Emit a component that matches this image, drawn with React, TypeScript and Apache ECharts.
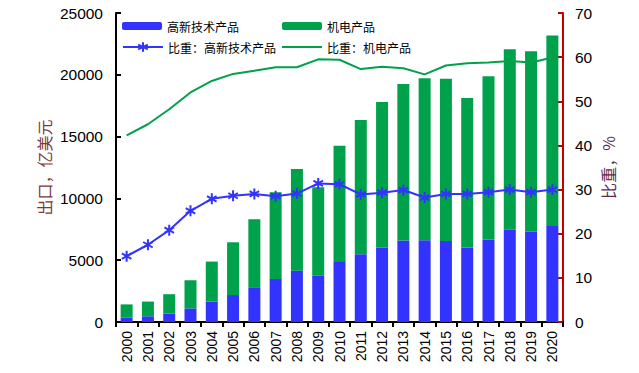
import React, { useEffect, useRef } from "react";
import * as echarts from "echarts";

const years = ["2000","2001","2002","2003","2004","2005","2006","2007","2008","2009","2010","2011","2012","2013","2014","2015","2016","2017","2018","2019","2020"];
const hiTech = [370, 465, 679, 1103, 1655, 2182, 2815, 3478, 4156, 3769, 4924, 5488, 6012, 6603, 6605, 6553, 6036, 6674, 7468, 7307, 7763];
const mechElec = [1053, 1188, 1571, 2275, 3234, 4268, 5494, 7012, 8229, 7131, 9334, 10856, 11794, 12655, 13109, 13119, 12094, 13215, 14603, 14589, 15411];
const hiTechShare = [14.9, 17.5, 20.8, 25.2, 27.9, 28.6, 29.0, 28.5, 29.1, 31.4, 31.2, 28.9, 29.3, 29.9, 28.2, 29.0, 29.0, 29.4, 30.0, 29.4, 30.0];
const mechShare = [42.3, 44.8, 48.2, 52.0, 54.6, 56.2, 56.9, 57.7, 57.7, 59.5, 59.4, 57.3, 57.8, 57.5, 56.1, 58.1, 58.6, 58.8, 59.1, 58.8, 59.9];

const BLUE = "#3333ff";
const GREEN = "#00a14b";
const RED = "#c00000";
const FONT = "'Liberation Sans', Arial, 'Noto Sans CJK SC', sans-serif";
const CJK = "'Noto Sans CJK SC', 'Liberation Sans', sans-serif";
const STAR = "path://M10 0L10 20M1.34 5L18.66 15M1.34 15L18.66 5";

export default function App() {
  const ref = useRef<HTMLDivElement>(null);
  useEffect(() => {
    document.body.style.margin = "0";
    const chart = echarts.init(ref.current!, null, { renderer: "svg" });
    const legendText = { fontSize: 12, color: "#000", fontFamily: CJK };
    chart.setOption({
      animation: false,
      textStyle: { fontFamily: FONT },
      grid: { left: 116, right: 76, top: 13, bottom: 51, containLabel: false },
      legend: [
        { data: ["高新技术产品"], left: 122, top: 20, padding: 0, itemWidth: 40, itemHeight: 8, textStyle: legendText },
        { data: ["机电产品"], left: 282, top: 20, padding: 0, itemWidth: 40, itemHeight: 8, textStyle: legendText },
        { data: ["比重：高新技术产品"], left: 122, top: 41, padding: 0, itemWidth: 40, itemHeight: 12, textStyle: legendText },
        { data: [{ name: "比重：机电产品", icon: "rect" }], left: 282, top: 41, padding: 0, itemWidth: 40, itemHeight: 2, textStyle: legendText },
      ],
      xAxis: [
        {
          type: "category",
          data: years,
          boundaryGap: true,
          axisLine: { lineStyle: { color: "#000", width: 2 } },
          axisTick: { show: true, inside: false, length: 5, alignWithLabel: false, lineStyle: { color: "#000", width: 2 } },
          axisLabel: { rotate: 90, fontSize: 14, color: "#000", margin: 9, interval: 0, fontFamily: FONT },
        },
        {
          type: "category",
          data: years,
          position: "top",
          axisLine: { lineStyle: { color: "#000", width: 2 } },
          axisTick: { show: false },
          axisLabel: { show: false },
        },
      ],
      yAxis: [
        {
          type: "value",
          min: 0,
          max: 25000,
          interval: 5000,
          name: "出口，亿美元",
          nameLocation: "middle",
          nameRotate: 90,
          nameGap: 64,
          nameMoveOverlap: false,
          nameTextStyle: { fontSize: 16, color: "#7b3b3b", fontFamily: CJK },
          axisLine: { show: true, lineStyle: { color: "#000", width: 2 } },
          axisTick: { show: true, inside: true, length: 5, lineStyle: { color: "#000", width: 2 } },
          axisLabel: { fontSize: 15.5, color: "#000", margin: 13, fontFamily: FONT, formatter: (v: number) => String(v) },
          splitLine: { show: false },
        },
        {
          type: "value",
          min: 0,
          max: 70,
          interval: 10,
          position: "right",
          name: "比重，%",
          nameLocation: "middle",
          nameRotate: 90,
          nameGap: 37,
          nameMoveOverlap: false,
          nameTextStyle: { fontSize: 16, color: "#5b2c4f", fontFamily: CJK },
          axisLine: { show: true, lineStyle: { color: RED, width: 2 } },
          axisTick: { show: true, inside: true, length: 5, lineStyle: { color: RED, width: 2 } },
          axisLabel: { fontSize: 15.5, color: "#000", margin: 12, fontFamily: FONT },
          splitLine: { show: false },
        },
      ],
      series: [
        { name: "高新技术产品", type: "bar", stack: "exp", data: hiTech, barWidth: 12, itemStyle: { color: BLUE } },
        { name: "机电产品", type: "bar", stack: "exp", data: mechElec, barWidth: 12, itemStyle: { color: GREEN } },
        {
          name: "比重：高新技术产品",
          type: "line",
          yAxisIndex: 1,
          data: hiTechShare,
          symbol: STAR,
          symbolSize: 11,
          symbolKeepAspect: true,
          lineStyle: { color: BLUE, width: 2 },
          itemStyle: { color: BLUE, borderColor: BLUE, borderWidth: 2 },
          z: 5,
        },
        {
          name: "比重：机电产品",
          type: "line",
          yAxisIndex: 1,
          data: mechShare,
          symbol: "none",
          lineStyle: { color: GREEN, width: 2 },
          itemStyle: { color: GREEN },
          z: 5,
        },
      ],
    });
    return () => chart.dispose();
  }, []);
  return <div ref={ref} style={{ width: 639, height: 373 }} />;
}
